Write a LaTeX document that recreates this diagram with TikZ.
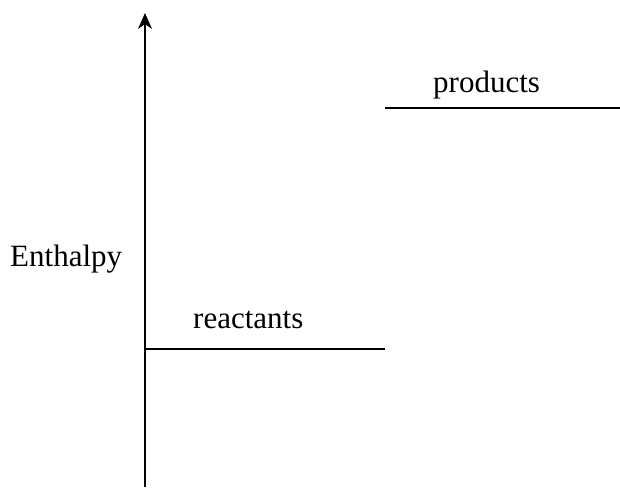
\documentclass[tikz,border=0pt]{standalone}
\usepackage{fontspec}
\setmainfont{Liberation Serif}
\usetikzlibrary{arrows.meta}
\begin{document}
\begin{tikzpicture}[x=1pt,y=1pt,
  lbl/.style={anchor=base west,inner sep=0pt,font=\fontsize{31}{37}\selectfont},
  axisline/.style={line width=1.2pt,-{Stealth[length=16pt,width=14pt,inset=5pt]}},
  level/.style={line width=1.2pt}]
\useasboundingbox (0,0) rectangle (620,487);
\coordinate (axbot) at (145,0);
\coordinate (axtop) at (145,474);
\coordinate (rA) at (145,138);
\coordinate (rB) at (385,138);
\coordinate (pA) at (385,379);
\coordinate (pB) at (620,379);
\draw[axisline] (axbot) -- (axtop);
\draw[level] (rA) -- (rB);
\draw[level] (pA) -- (pB);
\node[lbl] (enth) at (10,220) {Enthalpy};
\node[lbl] (react) at (193,158) {reactants};
\node[lbl] (prod) at (433,394) {products};
\end{tikzpicture}
\end{document}
